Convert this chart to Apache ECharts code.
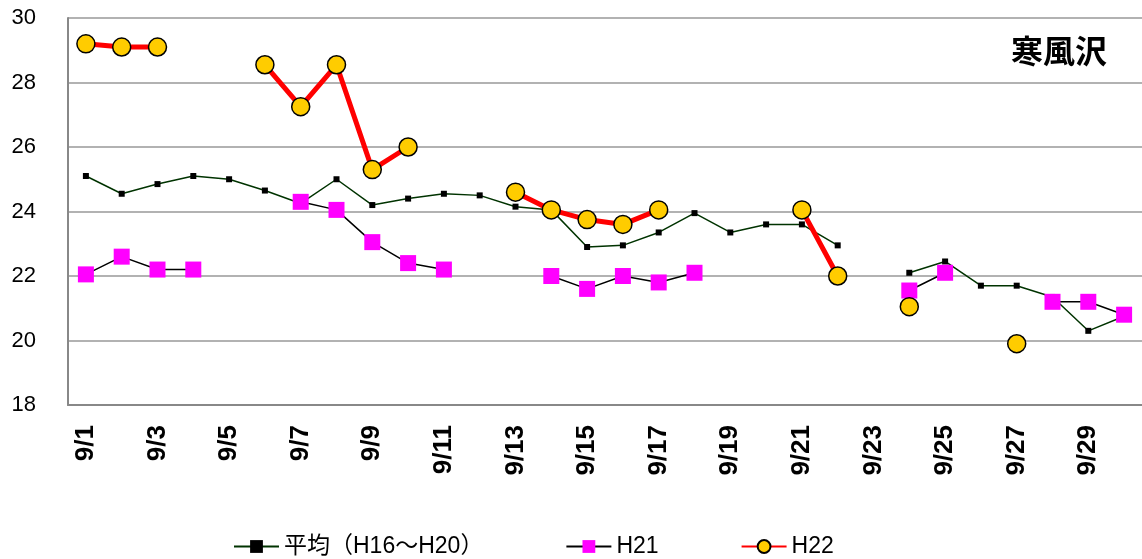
<!DOCTYPE html>
<html>
<head>
<meta charset="utf-8">
<script src="https://cdn.jsdelivr.net/npm/echarts@6/dist/echarts.min.js"></script>
<style>
html,body{margin:0;padding:0;background:#fff;}
#chart1{width:1142px;height:559px;}
</style>
</head>
<body>
<div id="chart1"></div>
<script>
// 日付
var days = [];
for (var d = 1; d <= 30; d++) days.push('9/' + d);
var yTicks = [18, 20, 22, 24, 26, 28, 30];

// 平均(H16~H20)
var avgData = [25.1, 24.55, 24.85, 25.1, 25.0, 24.65, 24.25, 25.0, 24.2, 24.4,
               24.55, 24.5, 24.15, 24.05, 22.9, 22.95, 23.35, 23.95, 23.35, 23.6,
               23.6, 22.95, null, 22.1, 22.45, 21.7, 21.7, 21.35, 20.3, 20.75];
// H21
var h21Data = [22.05, 22.6, 22.2, 22.2, null, null, 24.3, 24.05, 23.05, 22.4,
               22.2, null, null, 22.0, 21.6, 22.0, 21.8, 22.1, null, null,
               null, null, null, 21.55, 22.1, null, null, 21.2, 21.2, 20.8];
// H22
var h22Data = [29.2, 29.1, 29.1, null, null, 28.55, 27.25, 28.55, 25.3, 26.0,
               null, null, 24.6, 24.05, 23.75, 23.6, 24.05, null, null, null,
               24.05, 22.0, null, 21.05, null, null, 19.9, null, null, null];

var font = '"Liberation Sans", Arial, "Noto Sans CJK JP", sans-serif';
var myChart = echarts.init(document.getElementById('chart1'));
var option = {
    animation: false,
    textStyle: {fontFamily: font},
    title: {
        text: '寒風沢',
        right: 30,
        top: 30,
        textStyle: {fontSize: 32, fontWeight: 'bold', color: '#000', fontFamily: '"Noto Sans CJK JP", sans-serif'}
    },
    grid: {left: 68, right: 0, top: 18, bottom: 154},
    legend: {
        top: 530,
        left: 228,
        itemWidth: 45,
        itemHeight: 16,
        itemGap: 82,
        textStyle: {fontSize: 23, color: '#000', fontFamily: font},
        data: ['平均（H16～H20）', 'H21', 'H22']
    },
    xAxis: {
        type: 'category',
        data: days,
        boundaryGap: true,
        axisLine: {lineStyle: {color: '#888', width: 2}},
        axisTick: {inside: true, interval: 1, length: 7, lineStyle: {color: '#aaa', width: 1.5}},
        axisLabel: {interval: 1, rotate: 90, margin: 20, fontSize: 26, fontWeight: 'bold', color: '#000'}
    },
    yAxis: {
        type: 'value',
        min: yTicks[0],
        max: yTicks[yTicks.length - 1],
        interval: 2,
        axisLine: {show: true, lineStyle: {color: '#888', width: 2}},
        axisTick: {show: false},
        axisLabel: {fontSize: 22, color: '#000', margin: 32},
        splitLine: {lineStyle: {color: '#999', width: 1.5}}
    },
    series: [
        {
            name: '平均（H16～H20）',
            type: 'line',
            data: avgData,
            symbol: 'rect',
            symbolSize: 6,
            lineStyle: {color: '#003300', width: 1.5},
            itemStyle: {color: '#000', borderWidth: 0}
        },
        {
            name: 'H21',
            type: 'line',
            data: h21Data,
            symbol: 'rect',
            symbolSize: 16,
            lineStyle: {color: '#000', width: 1.5},
            itemStyle: {color: '#ff00ff', borderWidth: 0}
        },
        {
            name: 'H22',
            type: 'line',
            data: h22Data,
            symbol: 'circle',
            symbolSize: 18,
            lineStyle: {color: '#ff0000', width: 5},
            itemStyle: {color: '#ffcc00', borderColor: '#000', borderWidth: 1.5}
        }
    ]
};
myChart.setOption(option);
</script>
</body>
</html>
